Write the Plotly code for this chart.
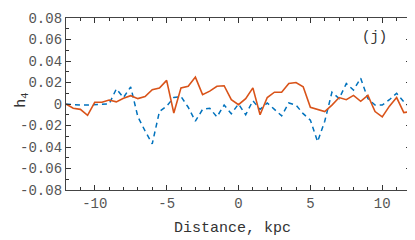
import plotly.graph_objects as go

distance = [-12.0, -11.5, -11.0, -10.5, -10.0, -9.5, -9.0, -8.5, -8.0, -7.5, -7.0, -6.5, -6.0, -5.5, -5.0, -4.5,
            -4.0, -3.5, -3.0, -2.5, -2.0, -1.5, -1.0, -0.5, 0.0, 0.5, 1.0, 1.5, 2.0, 2.5, 3.0, 3.5,
            4.0, 4.5, 5.0, 5.5, 6.0, 6.5, 7.0, 7.5, 8.0, 8.5, 9.0, 9.5, 10.0, 10.5, 11.0, 11.5, 12.0]

h4_orange = [0.0, -0.004, -0.005, -0.0105, 0.0016, 0.0016, 0.0037, 0.002, 0.0053, 0.0077, 0.005, 0.007, 0.0133, 0.0148, 0.022, -0.0084,
             0.015, 0.0165, 0.025, 0.0087, 0.012, 0.0165, 0.017, 0.004, -0.0006, 0.005, 0.015, -0.010, 0.006, 0.011, 0.011, 0.019,
             0.020, 0.016, -0.003, -0.005, -0.007, -0.001, 0.006, 0.004, 0.008, 0.0025, 0.008, -0.007, -0.012, -0.002, 0.006, -0.008, -0.007]

h4_blue = [0.0, -0.0006, -0.001, -0.001, -0.0005, 0.0, 0.0, 0.014, 0.006, 0.016, -0.012, -0.025, -0.037, -0.007, -0.002, 0.006,
           0.007, -0.003, -0.016, -0.005, -0.004, -0.012, -0.001, -0.009, 0.0, -0.010, 0.003, -0.005, 0.001, -0.005, -0.011, 0.001,
           -0.001, -0.009, -0.015, -0.035, -0.016, 0.011, 0.005, 0.019, 0.013, 0.024, 0.005, -0.001, -0.001, 0.004, 0.010, 0.002, -0.004]

y_tickvals = [-0.08, -0.06, -0.04, -0.02, 0, 0.02, 0.04, 0.06, 0.08]
y_ticktext = ["-0.08", "-0.06", "-0.04", "-0.02", "0", "0.02", "0.04", "0.06", "0.08"]
x_tickvals = [-10, -5, 0, 5, 10]
x_ticktext = ["-10", "-5", "0", "5", "10"]

font = "Liberation Mono, Courier New, monospace"

fig = go.Figure()
fig.add_trace(go.Scatter(x=distance, y=h4_blue, mode="lines",
                         line=dict(color="#0072BD", width=1.5, dash="5px,4px"), showlegend=False))
fig.add_trace(go.Scatter(x=distance, y=h4_orange, mode="lines",
                         line=dict(color="#D95319", width=1.6), showlegend=False))

axis_common = dict(showgrid=False, zeroline=False, showline=True, linecolor="#444", linewidth=1.3,
                   mirror="ticks", ticks="inside", ticklen=5, tickcolor="#333", automargin=False,
                   tickfont=dict(family=font, size=14, color="#555"))

fig.update_xaxes(range=[-12, 12], tickvals=x_tickvals, ticktext=x_ticktext,
                 minor=dict(dtick=1, tick0=0, ticks="inside", ticklen=3, tickcolor="#333"),
                 **axis_common)
fig.update_yaxes(range=[-0.08, 0.08], tickvals=y_tickvals, ticktext=y_ticktext,
                 minor=dict(dtick=0.01, tick0=0, ticks="inside", ticklen=3, tickcolor="#333"),
                 **axis_common)

fig.add_annotation(x=0.483, y=-0.221, xref="paper", yref="paper", text="Distance, kpc", showarrow=False,
                   xanchor="center", yanchor="middle",
                   font=dict(family=font, size=15, color="#333"))
fig.add_annotation(x=-0.13, y=0.52, xref="paper", yref="paper", text="h<sub>4</sub>", showarrow=False,
                   textangle=-90, xanchor="center", yanchor="middle",
                   font=dict(family=font, size=15, color="#333"))
fig.add_annotation(x=0.893, y=0.89, xref="paper", yref="paper", text="(j)", showarrow=False,
                   xanchor="center", yanchor="middle",
                   font=dict(family=font, size=14, color="#333"))

fig.update_layout(width=415, height=240, margin=dict(l=58, r=12, t=10, b=58),
                  plot_bgcolor="white", paper_bgcolor="white")

fig.write_html("out.html")
